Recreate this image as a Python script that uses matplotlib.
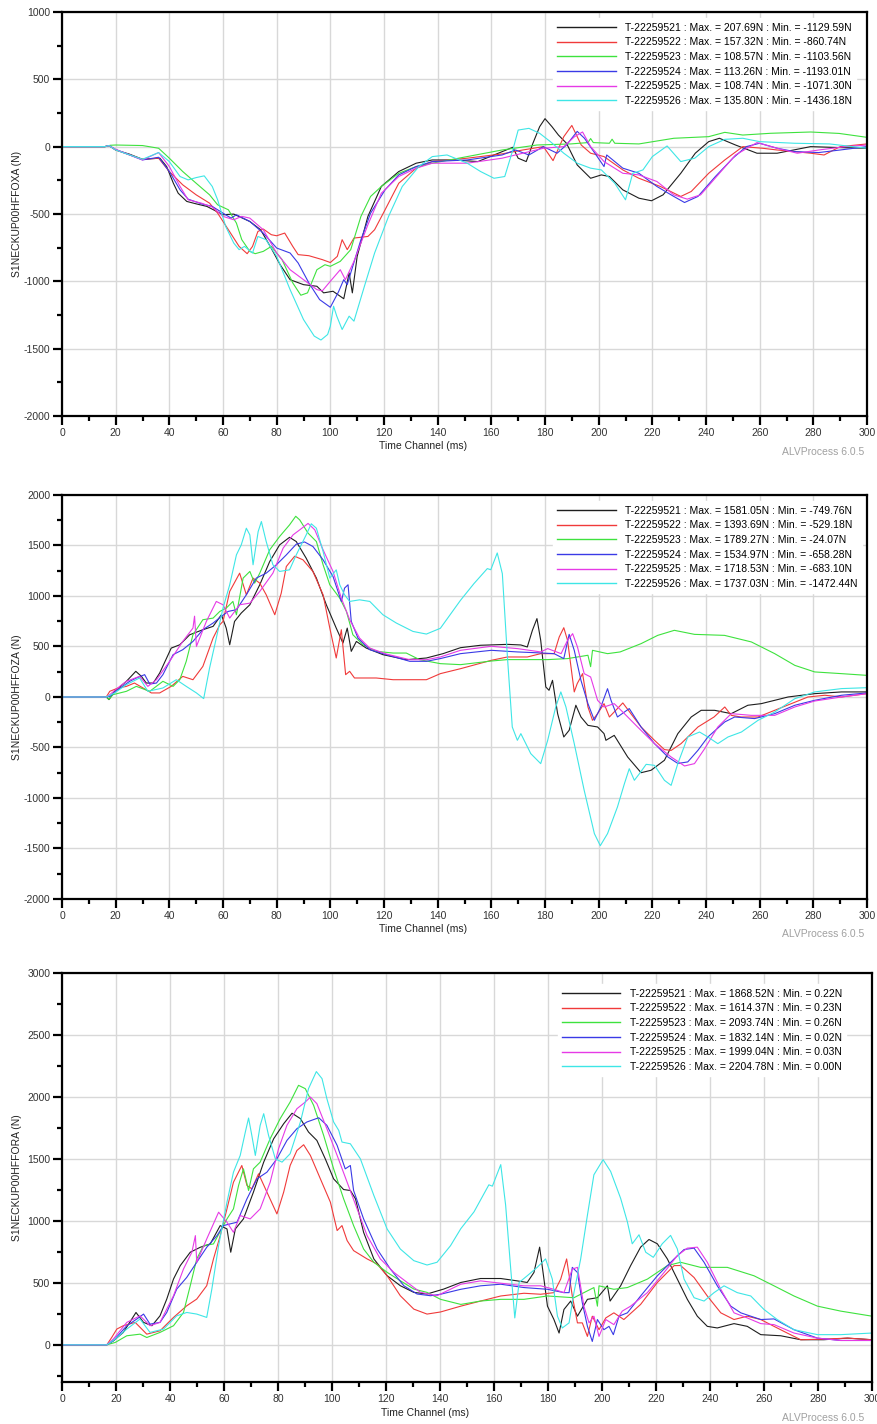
import matplotlib
matplotlib.use('Agg')
import matplotlib.pyplot as plt
from matplotlib.ticker import MultipleLocator

plt.rcParams['font.family'] = ['Liberation Sans', 'DejaVu Sans']
plt.rcParams['axes.unicode_minus'] = False

test_ids = ['T-22259521', 'T-22259522', 'T-22259523', 'T-22259524', 'T-22259525', 'T-22259526']
colors = ['#1e1e1e', '#f03a3a', '#3ee23e', '#3a3ae6', '#e63ae6', '#3ee6e6']

# ---- S1NECKUP00HFFOXA ----
foxa_t_21 = [0, 16, 17.5, 20, 25, 30, 36.5, 39, 41.5, 43.3, 46.5, 50, 54, 60, 64, 70, 74, 77.6, 81.3, 85, 90, 95, 97.5, 101, 105, 107, 108.2, 110, 114, 119, 125.5, 132, 138, 146, 155, 161, 168, 170, 173, 175.5, 178, 180, 182.6, 185, 188, 192, 197, 201, 204, 209, 215, 219.7, 224, 230.6, 236, 241, 245, 251, 259, 266.5, 279, 289.6, 300]
foxa_21 = [0, 0, 8, -25, -55, -94, -86, -148, -272, -346, -407, -425, -444, -506, -501, -556, -617, -741, -877, -988, -1025, -1037, -1086, -1074, -1129.59, -938, -1086, -815, -518, -296, -185, -123, -99, -99, -111, -62, -5, -86, -111, 25, 148, 207.69, 148, 86, 25, -136, -235, -210, -222, -321, -383, -402, -358, -198, -49, 37, 62, 12, -49, -49, 0, -7, -12]

foxa_t_22 = [0, 16, 17.5, 20, 25, 30, 36, 40, 45, 50, 55, 58, 62, 66, 69, 71, 73, 75, 78, 80, 83, 86, 88, 92, 97, 100, 102.6, 104.4, 106.3, 108.8, 114, 116.5, 120.4, 125.5, 132, 138, 151, 164, 171.7, 179.4, 183, 187, 190, 193.5, 197, 202, 209, 215, 223, 230.6, 234.5, 241, 247, 253.7, 261, 266.5, 273, 279, 284, 290, 300]
foxa_22 = [0, 0, 8, -25, -60, -94, -86, -185, -284, -358, -420, -494, -617, -741, -795, -741, -630, -612, -654, -662, -642, -741, -802, -810, -839, -860.74, -815, -691, -765, -679, -667, -617, -469, -272, -160, -111, -86, -54, -25, 0, -104, 74, 157.32, 12, -49, -74, -173, -235, -296, -370, -333, -198, -99, 0, -12, -25, -37, -49, -62, 0, 20]

foxa_t_23 = [0, 16, 18, 20, 30, 36, 40, 45, 50, 55, 58, 62, 65, 67, 70, 72, 75, 78, 82, 86, 89, 91.5, 95, 98, 100, 103.7, 107.6, 111.4, 115, 119, 125.5, 132, 138, 151, 164, 177, 189.6, 196, 197, 198, 204, 205, 206, 215, 228, 241, 247, 253.7, 264, 279, 289.6, 300]
foxa_23 = [0, 0, 10, 12, 8, -12, -86, -185, -272, -358, -432, -469, -568, -691, -778, -795, -778, -741, -839, -1012, -1103.56, -1086, -914, -877, -889, -852, -765, -518, -370, -296, -198, -148, -123, -74, -25, 12, 20, 30, 60, 30, 25, 55, 25, 20, 62, 74, 106, 86, 99, 108.57, 98, 69]

foxa_t_24 = [0, 16, 17.5, 20, 25, 30, 36, 40, 44, 47, 52, 56, 60, 63, 65, 70, 75, 80, 85, 88, 92, 96, 100, 103, 105, 106.3, 107.6, 111.4, 115, 120.4, 125.5, 132, 138, 151, 164, 169, 174, 179.4, 184.5, 188, 192, 194.7, 198.6, 202, 203, 209, 215, 221.7, 228, 232, 237, 243.5, 250, 255, 260, 266.5, 273, 282, 290, 300]
foxa_24 = [0, 0, 8, -22, -60, -99, -79, -185, -321, -390, -425, -444, -494, -531, -506, -556, -642, -753, -790, -864, -1012, -1136, -1193.01, -1080, -988, -1025, -938, -691, -494, -321, -210, -148, -111, -99, -62, -25, -62, 0, -49, 12, 113.26, 62, -49, -148, -62, -160, -198, -296, -370, -415, -370, -222, -86, 0, 25, -12, -37, -44, -25, 0]

foxa_t_25 = [0, 16, 17.5, 20, 25, 30, 36, 40, 44, 47, 52, 56, 60, 64, 67, 70, 75, 80, 85, 90, 95, 97, 100, 103.7, 105.6, 108.8, 114, 119, 125.5, 132, 138, 151, 164, 171.7, 179.4, 187, 191, 194, 197, 202, 209, 215, 221.7, 228, 233, 238, 245, 251, 259, 266.5, 274, 282, 292, 300]
foxa_25 = [0, 0, 8, -20, -60, -99, -44, -148, -296, -395, -420, -449, -518, -543, -518, -531, -617, -790, -914, -988, -1062, -1071.30, -1000, -914, -988, -852, -580, -346, -222, -160, -123, -123, -86, -49, -12, 0, 74, 108.74, 0, -111, -198, -210, -259, -358, -390, -358, -198, -62, 30, -12, -49, -25, 0, 12]

foxa_t_26 = [0, 16, 17.5, 20, 25, 30, 36, 40, 44, 47, 50, 53, 56, 58, 61, 64, 66, 68, 71, 73, 76, 80, 85, 90, 94, 96.5, 99, 100, 101.2, 102.4, 104.4, 107, 108.8, 112.7, 116.5, 121.7, 126.8, 133, 138, 143.5, 151, 156, 161, 165, 168, 170, 174, 178, 182, 187, 192, 197, 201, 206, 210, 212.7, 216.5, 220, 225.5, 230.6, 235.8, 241, 247, 253.7, 260, 273, 286, 300]
foxa_26 = [0, 0, 8, -25, -60, -94, -44, -111, -222, -247, -230, -217, -296, -395, -593, -716, -765, -741, -790, -667, -691, -815, -1062, -1284, -1407, -1436.18, -1395, -1333, -1185, -1259, -1358, -1259, -1296, -1037, -790, -518, -296, -148, -74, -62, -123, -185, -235, -222, -25, 123, 135.80, 99, 37, -49, -123, -160, -173, -272, -395, -198, -173, -74, 5, -111, -86, 0, 54, 62, 37, 25, 20, -12]

# ---- S1NECKUP00HFFOZA ----
foza_t_21 = [0, 16.5, 17.5, 19.6, 24, 27.5, 29.6, 31.4, 34, 36.4, 40.7, 43.9, 47.6, 52.5, 56.3, 59.4, 61.2, 62.5, 64.3, 66.8, 70, 73.7, 77.4, 81.1, 84.8, 87.3, 91, 94.8, 98.5, 102.2, 104.7, 106.3, 107.8, 109.7, 113.4, 119.6, 128.3, 135.8, 142, 148.5, 156, 166, 171, 173.4, 175.3, 177, 178.4, 180.3, 181.5, 182.8, 184.7, 187, 189, 191.5, 193.4, 196, 199.6, 202, 202.7, 205.8, 210.8, 215.8, 219.5, 224.5, 229.5, 234.5, 238.2, 243.2, 249.4, 255.6, 260.6, 270.6, 280.5, 290.5, 300]
foza_21 = [0, 0, -26, 56, 155, 254, 204, 138, 138, 237, 484, 517, 616, 666, 699, 814, 682, 517, 748, 831, 913, 1111, 1341, 1506, 1581.05, 1539, 1374, 1177, 913, 682, 534, 682, 452, 550, 484, 419, 369, 386, 429, 488, 512, 521, 515, 495, 660, 776, 561, 99, 66, 165, -165, -396, -330, -82, -198, -281, -297, -363, -429, -380, -594, -749.76, -726, -627, -363, -198, -132, -132, -165, -82, -66, 0, 33, 50, 50]

foza_t_22 = [0, 16.5, 17.8, 20.9, 24, 27, 30.2, 33.3, 36.4, 40.7, 45, 48.8, 52.5, 56.3, 58.8, 60, 62.5, 66.2, 68.7, 71.2, 73.7, 76.1, 79.3, 81.7, 83.6, 86.7, 89.8, 93.5, 97.3, 99.8, 102.2, 104.1, 105.7, 107.2, 109, 117.1, 123.4, 130.8, 135.8, 141, 148.5, 160, 166, 173.4, 178.4, 183.4, 185.3, 187, 188.4, 190.9, 192, 194, 196, 197.7, 199.6, 202, 204, 209, 212, 215.8, 220.8, 224.5, 227, 230.7, 237, 243, 247, 249.4, 253, 259.4, 265.6, 271.8, 278, 284.3, 290.5, 300]
foza_22 = [0, 0, 56, 89, 105, 138, 89, 40, 40, 105, 204, 171, 303, 583, 715, 748, 1045, 1226, 1012, 1177, 1127, 1012, 814, 1028, 1292, 1393.69, 1358, 1243, 1012, 682, 386, 666, 221, 254, 188, 188, 171, 171, 171, 231, 280, 363, 396, 396, 429, 429, 594, 686, 561, 50, 132, 231, -99, -231, -165, -66, -198, -59, -165, -297, -429, -521, -529.18, -462, -297, -198, -99, -182, -198, -198, -132, -66, 0, 17, 0, 33]

foza_t_23 = [0, 16.5, 17.5, 19, 24, 27.7, 32.7, 37.6, 41.4, 43.9, 46.3, 48.8, 52.5, 56.3, 58.8, 61.2, 63.7, 65, 67.5, 70, 71.8, 73.7, 77.4, 81.1, 84.8, 87.1, 88.6, 91.7, 94.8, 97.3, 99.8, 103.5, 106, 108.4, 112.2, 117.1, 123.4, 128.3, 133.3, 141, 148.5, 160, 166, 173.4, 181, 188.4, 196, 197, 197.7, 203.3, 208, 215.8, 222, 228.2, 235.7, 246.9, 256.9, 265.6, 273.1, 280.5, 290.5, 300]
foza_23 = [0, 0, -24.07, 23, 56, 105, 56, 155, 105, 171, 353, 616, 765, 781, 847, 880, 946, 814, 1177, 1243, 1127, 1226, 1457, 1589, 1704, 1789.27, 1753, 1622, 1539, 1309, 1111, 979, 847, 616, 517, 452, 435, 435, 369, 330, 320, 356, 370, 370, 370, 380, 413, 300, 462, 429, 446, 528, 610, 660, 620, 610, 545, 429, 313, 248, 231, 214]

foza_t_24 = [0, 16.5, 17.8, 20.9, 25.2, 27.7, 30.8, 32.7, 35.2, 37.6, 41.4, 45, 48.8, 52.5, 56.3, 59.4, 61.9, 65, 68.7, 72.4, 76.1, 79.9, 83.6, 87.3, 90.4, 93.5, 97.3, 101, 104.1, 105.3, 106.6, 107.8, 110.3, 114.7, 120.9, 129.6, 135.8, 141, 148.5, 160, 169.7, 178.4, 183.4, 187, 189, 190.9, 193.4, 196, 198.4, 200.8, 203.3, 204.6, 207, 211.4, 215.8, 220.8, 225.8, 229.5, 233.2, 237, 240.7, 247, 250.7, 258.1, 265.6, 273.1, 280.5, 290.5, 300]
foza_24 = [0, 0, 6, 73, 155, 188, 221, 128, 138, 221, 419, 468, 550, 666, 732, 798, 847, 864, 1012, 1177, 1226, 1309, 1407, 1513, 1534.97, 1490, 1358, 1193, 946, 1078, 1111, 748, 583, 468, 419, 353, 353, 380, 429, 462, 446, 436, 429, 380, 620, 462, 165, -66, -231, -99, 82, -33, -198, -115, -297, -462, -594, -658.28, -643, -528, -396, -247, -198, -214, -165, -82, -33, 17, 40]

foza_t_25 = [0, 16.5, 17.8, 21.5, 24, 28.9, 32, 35.2, 40.1, 45, 48.8, 49.4, 50.1, 53.8, 57.5, 60, 62.5, 66.2, 70, 73.7, 78.6, 82.4, 86.1, 88.6, 91.7, 94.2, 97.3, 101, 104.1, 107.2, 110.9, 114.7, 120.9, 129.6, 135.8, 141, 148.5, 160, 169.7, 178.4, 181, 186, 188.4, 190.3, 192.1, 194.6, 197, 199.6, 202, 205.8, 209.6, 214.5, 220.8, 227, 232, 235.7, 239.5, 244.4, 249.4, 256.9, 265.6, 273.1, 280.5, 290.5, 300]
foza_25 = [0, 0, 23, 105, 155, 204, 105, 171, 353, 550, 682, 800, 501, 748, 946, 913, 781, 913, 929, 1045, 1226, 1473, 1605, 1655, 1718.53, 1655, 1457, 1243, 979, 765, 583, 484, 425, 369, 369, 396, 462, 502, 479, 446, 479, 429, 561, 627, 495, 231, 198, -33, -99, -66, -165, -297, -462, -594, -683.10, -660, -512, -297, -165, -182, -182, -99, -40, 0, 33]

foza_t_26 = [0, 16.5, 19.6, 24, 28.9, 32, 37.6, 42.6, 46.3, 50.1, 52.8, 55, 57.5, 60, 62.5, 65, 66.8, 68.7, 70, 71.2, 73.1, 74.3, 76.1, 78.6, 81.1, 84.8, 87.3, 91, 92.9, 94.8, 97.3, 99.8, 102.2, 103.5, 105.3, 107.2, 110.9, 114.7, 119.6, 124.6, 130.8, 135.8, 141, 148.5, 153.5, 158.5, 159.8, 162.2, 164.1, 166, 167.8, 169.7, 171, 174.7, 178.4, 181, 184, 185.9, 187.8, 190.9, 194.6, 198.4, 200.6, 203.3, 207, 209.6, 211.4, 213.3, 215.2, 217.7, 220.8, 224.5, 227, 229.5, 233.2, 237.6, 240.7, 244.4, 248.2, 253.2, 259.4, 265.6, 273.1, 280.5, 290.5, 300]
foza_26 = [0, 0, 40, 122, 188, 56, 89, 171, 105, 40, -16, 287, 583, 880, 1111, 1407, 1506, 1671, 1605, 1309, 1638, 1737.03, 1539, 1309, 1243, 1259, 1407, 1605, 1715, 1671, 1440, 1177, 1259, 1111, 1012, 946, 962, 946, 814, 732, 649, 623, 680, 957, 1122, 1271, 1260, 1426, 1221, 396, -297, -429, -363, -561, -660, -429, -99, 50, -99, -462, -924, -1353, -1472.44, -1353, -1089, -858, -710, -825, -759, -667, -677, -825, -875, -660, -396, -347, -396, -462, -396, -347, -231, -149, -17, 50, 83, 92]

# ---- S1NECKUP00HFFORA ----
fora_t_21 = [0, 16.6, 19, 22.7, 27.4, 30.2, 33.3, 36.3, 38.8, 41.3, 43.8, 47.5, 51.2, 54.9, 58.6, 61.1, 62.5, 64.2, 67.2, 70.9, 74.7, 78.4, 82.1, 85.2, 88.3, 91.3, 94.4, 97.5, 100.6, 104.3, 106.8, 108.7, 111.7, 115.5, 120.4, 125.3, 130.3, 135.2, 141.4, 147.7, 155, 162.5, 168.6, 172.3, 174.8, 176.9, 178.5, 179.8, 182.2, 184.1, 185.9, 188.4, 190.9, 194.6, 198.3, 202, 203, 206.9, 210.6, 214.3, 217.4, 220.5, 224.2, 227.9, 231.6, 235.3, 239, 242.7, 248.9, 253.8, 258.8, 266.2, 273.6, 282.2, 290.9, 300]
fora_21 = [0.22, 0.22, 32, 100, 261, 181, 154, 234, 369, 531, 639, 747, 787, 814, 962, 935, 747, 935, 1016, 1232, 1474, 1663, 1784, 1868.52, 1825, 1717, 1649, 1501, 1339, 1253, 1245, 1178, 908, 693, 558, 477, 423, 410, 450, 503, 535, 535, 516, 503, 584, 788, 530, 312, 204, 95, 285, 353, 231, 367, 380, 476, 353, 476, 639, 788, 850, 815, 693, 530, 367, 231, 149, 136, 171, 149, 82, 73, 41, 41, 54, 41]

fora_t_22 = [0, 16.6, 18.4, 20.3, 22.7, 27.1, 31.4, 36.3, 41.3, 46.2, 49.9, 53.6, 56.1, 58.6, 61.1, 63.5, 66.6, 68.5, 70.3, 72.8, 75.9, 79.6, 82.1, 84.5, 87, 89.5, 92, 95.7, 99.4, 101.9, 103.7, 105.6, 108, 113, 116.7, 120.4, 125.3, 130.3, 135.2, 140.2, 147.7, 155, 162.5, 171.1, 177.3, 182.2, 184.7, 186.9, 189, 190.9, 192.7, 194.6, 196.4, 198.9, 201.4, 204.4, 208.1, 214.3, 220.5, 226.7, 229.1, 234.1, 239, 244, 248.9, 253.8, 258.8, 263.7, 268.6, 273.6, 282.2, 290.9, 300]
fora_22 = [0.23, 0.23, 59, 127, 154, 181, 86, 113, 221, 315, 369, 477, 693, 881, 1097, 1312, 1447, 1286, 1259, 1380, 1232, 1056, 1232, 1447, 1568, 1614.37, 1528, 1339, 1151, 922, 962, 841, 760, 693, 652, 558, 396, 288, 248, 265, 312, 353, 394, 416, 408, 421, 530, 693, 394, 177, 177, 68, 231, 122, 217, 258, 204, 326, 503, 639, 640, 543, 394, 258, 204, 231, 204, 149, 95, 41, 46, 54, 41]

fora_t_23 = [0, 16.6, 19.7, 24, 28.9, 31.4, 36.3, 41.3, 45, 47.5, 49.9, 52.4, 56.1, 61.1, 63.5, 65.4, 67.2, 69.1, 70.9, 73.4, 77.1, 80.8, 84.5, 87.6, 90.1, 93.2, 96.9, 100.6, 104.3, 108, 111.7, 115.5, 120.4, 125.3, 130.3, 135.2, 140.2, 147.7, 155, 162.5, 171.1, 179.8, 189.6, 197, 198.3, 198.9, 204.4, 209.4, 216.8, 224.2, 229.1, 236.5, 246.4, 256.3, 263.7, 271.1, 279.8, 288.4, 300]
fora_23 = [0.26, 0.26, 19, 73, 86, 59, 100, 154, 261, 477, 693, 800, 814, 1016, 1097, 1286, 1420, 1245, 1420, 1474, 1663, 1825, 1959, 2093.74, 2067, 1932, 1690, 1420, 1178, 962, 773, 666, 585, 517, 450, 423, 367, 326, 353, 367, 367, 394, 380, 462, 312, 476, 448, 462, 530, 639, 666, 625, 625, 557, 476, 394, 312, 272, 231]

fora_t_24 = [0, 16.6, 19, 24, 27.7, 30.2, 32.6, 36.3, 38.8, 42.5, 46.2, 49.9, 53.6, 57.4, 59.8, 62.3, 64.8, 68.5, 72.2, 75.9, 79.6, 83.3, 87, 90.7, 95.1, 98.1, 101.9, 104.9, 106.8, 108, 111.7, 116.7, 121.6, 126.6, 131.5, 136.5, 140.2, 147.7, 155, 162.5, 171.1, 179.8, 185.9, 187.8, 189, 190.9, 192.7, 194.6, 196.4, 198.3, 200.7, 202.6, 204.2, 206.3, 209.4, 214.3, 220.5, 226.7, 230.4, 234.1, 237.8, 242.7, 247.7, 251.4, 258.8, 263.7, 271.1, 279.8, 288.4, 300]
fora_24 = [0.02, 0.02, 32, 154, 208, 248, 167, 181, 261, 450, 544, 666, 787, 881, 962, 976, 989, 1178, 1339, 1393, 1501, 1649, 1744, 1798, 1832.14, 1771, 1609, 1420, 1447, 1245, 1016, 773, 612, 477, 410, 396, 408, 448, 476, 489, 462, 448, 421, 421, 625, 584, 340, 149, 27, 204, 122, 149, 82, 231, 258, 394, 557, 693, 769, 780, 666, 476, 312, 258, 204, 209, 122, 54, 35, 35]

fora_t_25 = [0, 16.6, 19, 24, 28.9, 32.6, 36.3, 41.3, 45, 48.1, 49.4, 49.9, 53.6, 58, 61.1, 63.5, 66, 69.7, 73.4, 77.1, 80.2, 83.3, 87, 90.1, 92, 94.4, 98.1, 101.9, 105.6, 109.3, 113, 117.9, 122.9, 127.8, 132.8, 138.9, 147.7, 155, 162.5, 171.1, 177.3, 182.2, 185.9, 189, 190.9, 193.3, 195.2, 197, 198.9, 201.4, 204.4, 207.5, 210.6, 216.8, 223, 227.9, 231.6, 235.3, 239, 244, 248.9, 253.8, 258.8, 263.7, 271.1, 279.8, 288.4, 300]
fora_25 = [0.03, 0.03, 46, 181, 234, 154, 181, 396, 612, 747, 881, 666, 854, 1070, 989, 908, 1043, 1016, 1097, 1312, 1582, 1771, 1905, 1959, 1999.04, 1946, 1744, 1528, 1312, 1097, 881, 693, 585, 504, 423, 396, 489, 516, 497, 476, 476, 448, 421, 611, 625, 312, 177, 231, 68, 204, 163, 272, 312, 421, 584, 720, 780, 788, 666, 448, 258, 217, 171, 163, 95, 54, 35, 35]

fora_t_26 = [0, 16.6, 19.7, 24, 28.9, 32.6, 37.6, 42.5, 46.2, 49.9, 53.6, 55.5, 58, 61.1, 63.5, 66, 67.9, 69.1, 70.3, 71.6, 73.4, 74.7, 76.5, 79, 81.5, 84.5, 88.3, 91.3, 94.2, 96.3, 98.1, 100.6, 102.5, 103.7, 106.8, 110.5, 115.5, 120.4, 125.3, 130.3, 135.2, 138.9, 143.9, 147.7, 152.6, 158.1, 159.4, 162.5, 164.3, 166.2, 167.7, 169.3, 172.3, 176, 179.1, 181.6, 183.5, 185.3, 187.8, 189.6, 192.1, 194.6, 197, 200.4, 203.2, 206.9, 209.4, 211.2, 213.7, 216.2, 219, 222.3, 225.4, 227.9, 230.4, 234.1, 237.8, 241.5, 245.2, 250.1, 255.1, 260, 264.9, 271.1, 279.8, 288.4, 300]
fora_26 = [0.00, 0.00, 46, 127, 208, 100, 127, 234, 261, 248, 221, 450, 800, 1151, 1393, 1528, 1717, 1830, 1690, 1528, 1771, 1865, 1690, 1501, 1474, 1542, 1798, 2067, 2204.78, 2148, 1986, 1798, 1730, 1636, 1622, 1501, 1205, 935, 773, 679, 644, 666, 800, 937, 1073, 1291, 1280, 1454, 1128, 611, 217, 503, 557, 625, 693, 530, 231, 136, 177, 421, 693, 1046, 1372, 1494, 1399, 1182, 992, 815, 888, 747, 706, 815, 883, 774, 530, 380, 353, 421, 476, 421, 394, 285, 204, 122, 82, 82, 95]

foxa = [(foxa_t_21, foxa_21), (foxa_t_22, foxa_22), (foxa_t_23, foxa_23),
        (foxa_t_24, foxa_24), (foxa_t_25, foxa_25), (foxa_t_26, foxa_26)]
foza = [(foza_t_21, foza_21), (foza_t_22, foza_22), (foza_t_23, foza_23),
        (foza_t_24, foza_24), (foza_t_25, foza_25), (foza_t_26, foza_26)]
fora = [(fora_t_21, fora_21), (fora_t_22, fora_22), (fora_t_23, fora_23),
        (fora_t_24, fora_24), (fora_t_25, fora_25), (fora_t_26, fora_26)]

FS = 7.5


def draw_channel(ax, curves, ylim, ylabel, legend_anchor):
    for tid, color, (t, v) in zip(test_ids, colors, curves):
        label = '%s : Max. = %.2fN : Min. = %.2fN' % (tid, max(v), min(v))
        ax.plot(t, v, color=color, lw=0.8, label=label)

    ax.set_xlim(0, 300)
    ax.set_ylim(*ylim)
    ax.xaxis.set_major_locator(MultipleLocator(20))
    ax.xaxis.set_minor_locator(MultipleLocator(10))
    ax.yaxis.set_major_locator(MultipleLocator(500))
    ax.yaxis.set_minor_locator(MultipleLocator(250))
    ax.grid(True, which='major', color='#d8d8d8', lw=1.0)
    ax.set_axisbelow(True)
    for s in ax.spines.values():
        s.set_linewidth(1.6)
        s.set_color('black')
    ax.tick_params(which='major', length=6.5, width=1.6, labelsize=FS, pad=2, colors='black', labelcolor='#333333')
    ax.tick_params(which='minor', length=3.5, width=1.6, colors='black')

    # x label sits left of the axis centre
    ax.set_xlabel('Time Channel (ms)', fontsize=FS, color='#222222')
    ax.xaxis.set_label_coords(0.448, -0.063)
    ax.set_ylabel(ylabel, fontsize=FS, color='#222222')
    ax.yaxis.set_label_coords(-0.05, 0.5)

    leg = ax.legend(loc='upper left', bbox_to_anchor=legend_anchor, fontsize=FS,
                    handlelength=5.6, handletextpad=0.9, labelspacing=0.45,
                    borderpad=0.4, borderaxespad=0, fancybox=False,
                    framealpha=1, facecolor='white', edgecolor='white')
    for line in leg.get_lines():
        line.set_linewidth(1.0)


fig = plt.figure(figsize=(8.77, 14.24), dpi=100)

ax1 = fig.add_axes([0.0707, 0.7079, 0.9179, 0.2837])
draw_channel(ax1, foxa, (-2000, 1000), 'S1NECKUP00HFFOXA (N)', (0.61, 0.984))

ax2 = fig.add_axes([0.0707, 0.3687, 0.9179, 0.2837])
draw_channel(ax2, foza, (-2000, 2000), 'S1NECKUP00HFFOZA (N)', (0.61, 0.984))

ax3 = fig.add_axes([0.0707, 0.0295, 0.9236, 0.2872])
draw_channel(ax3, fora, (-300, 3000), 'S1NECKUP00HFFORA (N)', (0.612, 0.972))

for y in (1 - 452 / 1424, 1 - 934 / 1424, 1 - 1418 / 1424):
    fig.text(864 / 877, y, 'ALVProcess 6.0.5', ha='right', va='center', fontsize=FS, color='#a0a0a0')

fig.savefig('out.png', dpi=100)
